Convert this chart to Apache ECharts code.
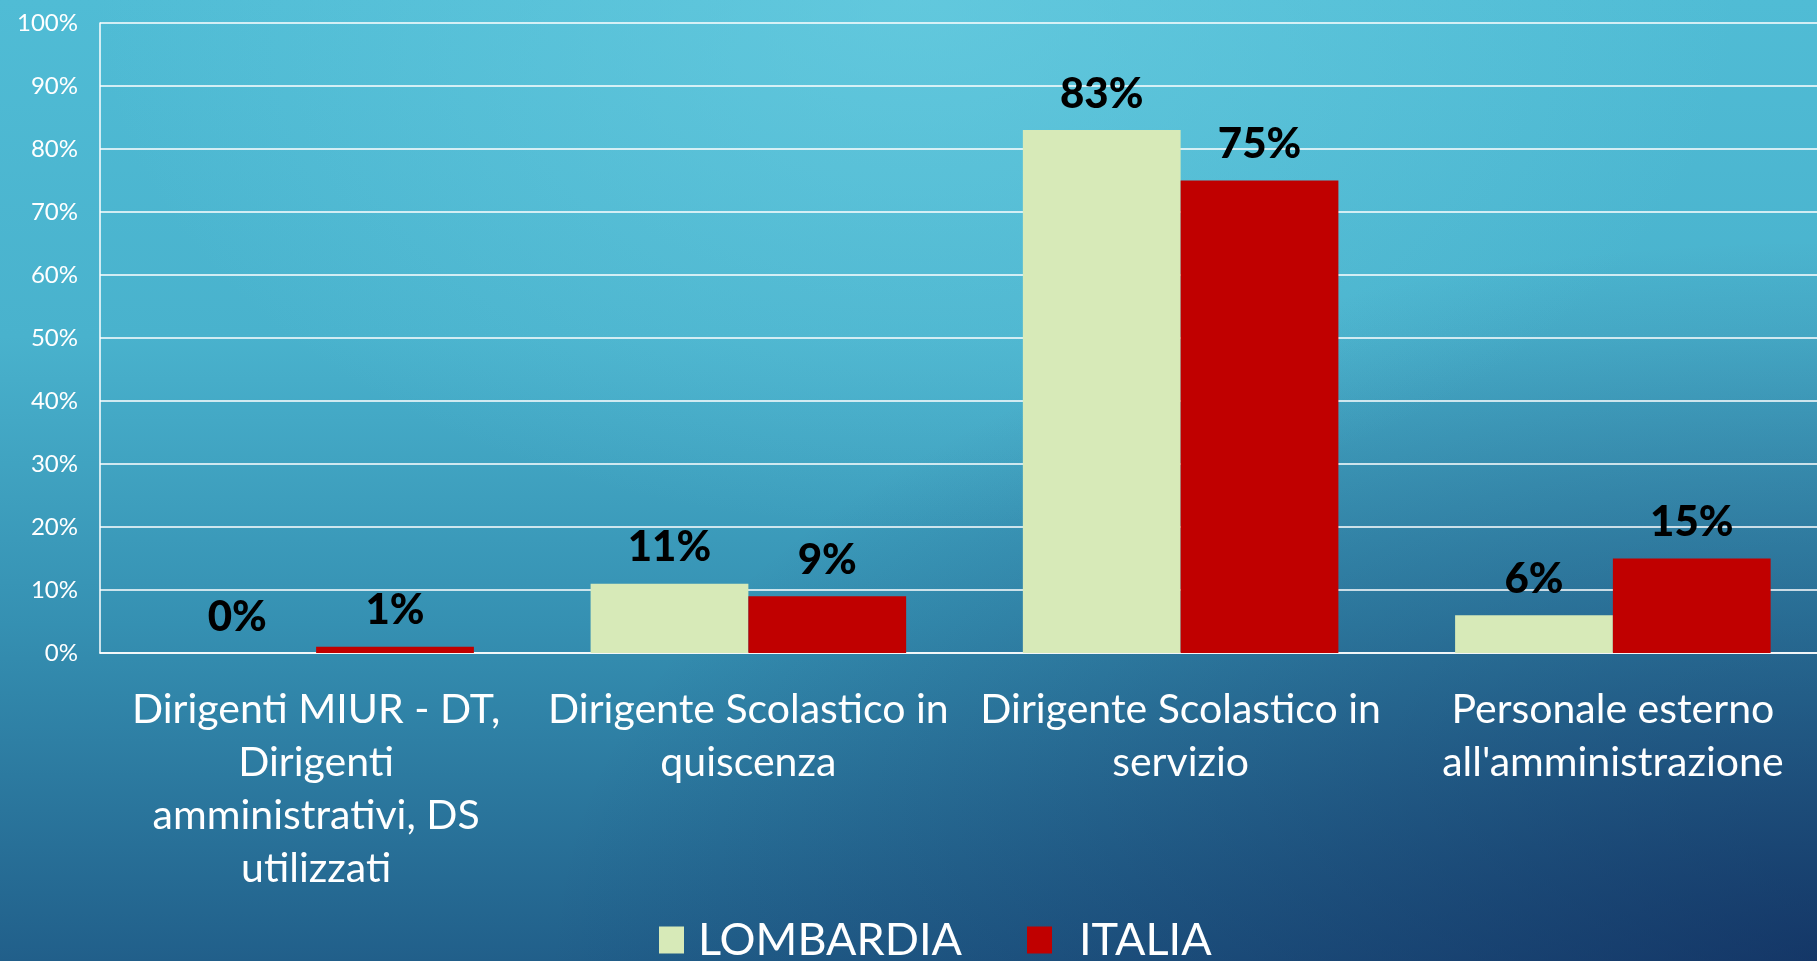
<!DOCTYPE html>
<html>
<head>
<meta charset="utf-8">
<script src="https://cdn.jsdelivr.net/npm/echarts@6/dist/echarts.min.js"></script>
<style>
  html, body { margin: 0; padding: 0; overflow: hidden; width: 1817px; height: 961px; }
  /* il riquadro del grafico sborda di poco a destra, come nell'originale */
  #chart {
    width: 1829px; height: 961px;
    background:
      radial-gradient(ellipse 45% 55% at 50% 0%, rgba(112,210,228,0.55), rgba(112,210,228,0) 100%),
      radial-gradient(ellipse 70% 75% at 100% 100%, rgba(12,28,80,0.6), rgba(12,28,80,0) 100%),
      linear-gradient(to bottom, #50bcd5 0%, #49b2cd 35%, #3590b2 65%, #215f8a 100%);
  }
</style>
</head>
<body>
<div id="chart"></div>
<script>
// categorie e valori
const categories = [
  'Dirigenti MIUR - DT,\nDirigenti\namministrativi, DS\nutilizzati',
  'Dirigente Scolastico in\nquiscenza',
  'Dirigente Scolastico in\nservizio',
  'Personale esterno\nall\'amministrazione'
]
const lombardia = [0, 11, 83, 6]
const italia = [1, 9, 75, 15]
const seriesNames = ['LOMBARDIA', 'ITALIA']

const font = 'Lato, "Open Sans", sans-serif'

const chart = echarts.init(document.getElementById('chart'))

function barSeries(name, data, color) {
  return {
    type: 'bar',
    name,
    data,
    barGap: '0%',
    barCategoryGap: '27%',
    itemStyle: { color },
    label: {
      show: true,
      position: 'top',
      distance: 15,
      formatter: '{c}%',
      color: '#000',
      fontFamily: font,
      fontWeight: 900,
      fontSize: 42,
    },
  }
}

function legendFor(name, left, gap) {
  return {
    data: [name],
    left,
    top: 914,
    padding: 0,
    icon: 'rect',
    itemWidth: 25,
    itemHeight: 27,
    selectedMode: false,
    textStyle: { color: '#fff', fontFamily: font, fontSize: 45, lineHeight: 52, padding: [0, 0, 0, gap] },
  }
}

chart.setOption({
  backgroundColor: 'transparent',
  animation: false,
  grid: { left: 100, top: 23, right: 0, bottom: 308, containLabel: false },
  legend: [legendFor(seriesNames[0], 659, 9), legendFor(seriesNames[1], 1027, 22)],
  xAxis: {
    type: 'category',
    data: categories,
    axisTick: { show: false },
    axisLine: { show: true, lineStyle: { color: '#fff', width: 1.5 } },
    axisLabel: {
      interval: 0,
      margin: 30,
      color: '#fff',
      fontFamily: font,
      fontSize: 41,
      lineHeight: 53,
    },
  },
  yAxis: {
    type: 'value',
    min: 0,
    max: 100,
    interval: 10,
    axisLine: { show: true, lineStyle: { color: '#fff', width: 1.5 } },
    axisTick: { show: false },
    splitLine: { lineStyle: { color: '#fff', width: 1.5 } },
    axisLabel: {
      formatter: '{value}%',
      margin: 22,
      color: '#fff',
      fontFamily: font,
      fontSize: 24,
    },
  },
  series: [
    barSeries(seriesNames[0], lombardia, '#d7eab8'),
    barSeries(seriesNames[1], italia, '#c00000'),
  ],
})
</script>
</body>
</html>
